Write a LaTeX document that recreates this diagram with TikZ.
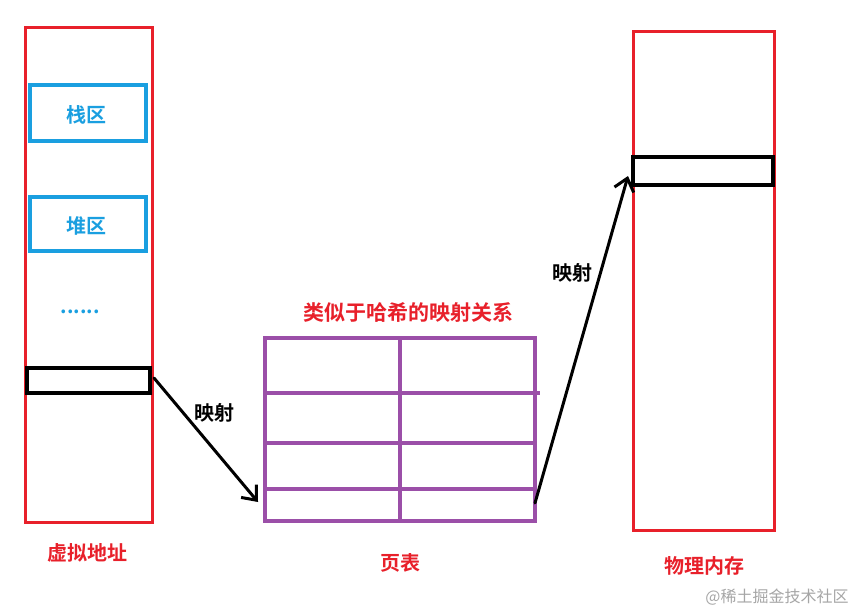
\documentclass[tikz,border=0pt]{standalone}
\usepackage{fontspec}
\newfontfamily\cjk{Noto Sans CJK SC}
\newfontfamily\cjkb{Noto Sans CJK SC Bold}
\usetikzlibrary{arrows.meta}
\definecolor{rd}{HTML}{E8202A}
\definecolor{bl}{HTML}{1A9FE0}
\definecolor{pu}{HTML}{9B4FA8}
\begin{document}
\begin{tikzpicture}[x=1pt,y=-1pt,
  redbox/.style={draw=rd,line width=3pt},
  bluebox/.style={draw=bl,line width=3.5pt},
  blkbox/.style={draw=black,line width=3.5pt},
  lbl/.style={font=\cjkb\fontsize{20}{23}\selectfont},
  arr/.style={line width=3pt,line cap=round,-{Straight Barb[length=12pt,width=20pt,line width=3pt]}}]
\useasboundingbox (0,0) rectangle (857,613);
\fill[white] (0,0) rectangle (857,613);
% left column
\draw[redbox] (25,27) rectangle (152,522);
\draw[bluebox] (30,85) rectangle (146,141);
\node[lbl,text=bl] (stack) at (86,115) {栈区};
\draw[bluebox] (30,197) rectangle (146,251);
\node[lbl,text=bl] (heap) at (86,226) {堆区};
\node[lbl,text=bl] (dots) at (80,312) {......};
\draw[blkbox] (27,368) rectangle (150,393);
\coordinate (va) at (154,378);
\node[lbl,text=rd] (vl) at (87,553) {虚拟地址};
% table
\draw[pu,line width=3.5pt] (265,338) rectangle (535,521);
\draw[pu,line width=3.5pt] (400,338) -- (400,521);
\draw[pu,line width=3.5pt] (265,393) -- (540,393);
\draw[pu,line width=3.5pt] (265,443) -- (535,443);
\draw[pu,line width=3.5pt] (265,489) -- (535,489);
\node[lbl,text=rd,font=\cjkb\fontsize{21}{24}\selectfont] (tt) at (408,313) {类似于哈希的映射关系};
\node[lbl,text=rd] (pt) at (400,563) {页表};
\coordinate (tin) at (258,502);
\coordinate (tout) at (535,503);
% right column
\draw[redbox] (633,31) rectangle (774,530);
\draw[blkbox] (633,157) rectangle (773,185);
\coordinate (pa) at (628,176);
\node[lbl,text=rd] (pl) at (704,566) {物理内存};
% arrows
\draw[arr] (va) -- (tin);
\node[lbl] (m1) at (214,413) {映射};
\draw[arr] (tout) -- (pa);
\node[lbl] (m2) at (572,273) {映射};
\node[font=\cjk\fontsize{16}{18}\selectfont,text=gray!70] (wm) at (777,597) {@稀土掘金技术社区};
\end{tikzpicture}
\end{document}
